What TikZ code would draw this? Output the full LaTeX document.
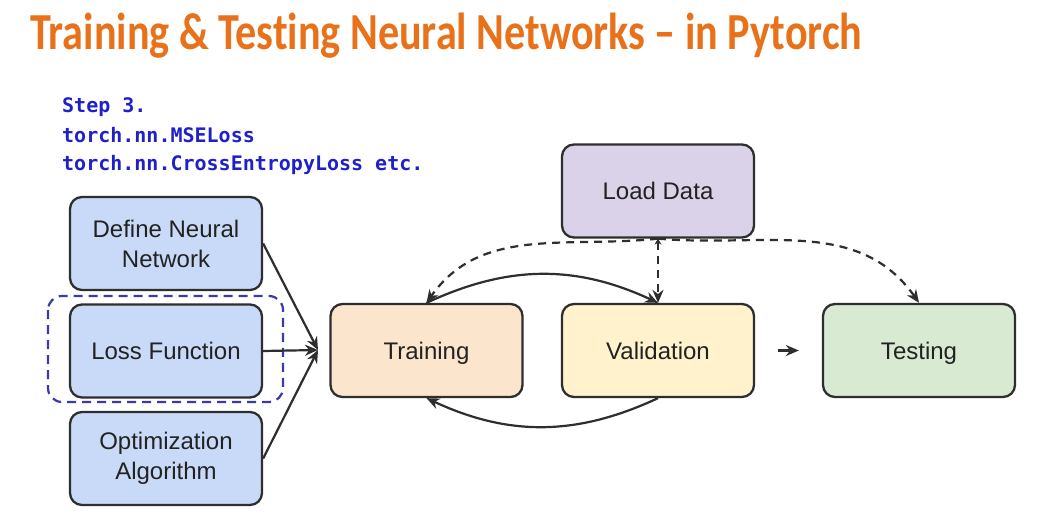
\documentclass[tikz,border=0pt]{standalone}
\usepackage{graphicx}
\usepackage{fontspec}
\setmainfont{Liberation Sans}
\newfontfamily\titlefont[Ligatures=NoCommon]{Carlito}
\newfontfamily\codefont{DejaVu Sans Mono}
\usetikzlibrary{arrows.meta}

\definecolor{titleorange}{HTML}{E8711A}
\definecolor{codeblue}{HTML}{2020C8}
\definecolor{groupblue}{HTML}{3A3AA8}
\definecolor{boxgray}{HTML}{2E2E2E}
\definecolor{textgray}{HTML}{222222}
\definecolor{stepblue}{HTML}{C9DAF8}
\definecolor{trainpeach}{HTML}{FCE5CD}
\definecolor{valyellow}{HTML}{FFF2CC}
\definecolor{testgreen}{HTML}{D9EAD3}
\definecolor{loadlilac}{HTML}{D9D2E9}

\begin{document}
\begin{tikzpicture}[x=1pt, y=1pt,
  box/.style={draw=boxgray, line width=2.3pt, rounded corners=12pt, minimum width=192pt,
    minimum height=93pt, align=center, text=textgray, font=\fontsize{24}{30}\selectfont},
  oneline/.style={text height=17pt, text depth=0pt},
  codeline/.style={anchor=base west, inner sep=0pt, text=codeblue, font=\codefont\bfseries\fontsize{20}{28}\selectfont},
  arr/.style={draw=boxgray, line width=2.2pt, -{Stealth[length=13pt,width=11pt]}},
  dasharr/.style={arr, dashed, dash pattern=on 8pt off 6pt}]

  \useasboundingbox[fill=white] (0,0) rectangle (1048,-524);

  % title
  \node[anchor=base west, inner sep=0pt, text=titleorange] (title) at (30,-50)
    {\resizebox{832pt}{\height}{\titlefont\bfseries\fontsize{52}{60}\selectfont Training \& Testing Neural Networks – in Pytorch}};

  % step 3 note
  \node[codeline] (code1) at (62,-113) {Step 3.};
  \node[codeline] (code2) at (62,-142) {torch.nn.MSELoss};
  \node[codeline] (code3) at (62,-170) {torch.nn.CrossEntropyLoss etc.};

  % inputs
  \node[box, fill=stepblue] (define) at (166,-243.5) {Define Neural\\Network};
  \node[box, oneline, fill=stepblue] (loss) at (166,-351) {Loss Function};
  \node[box, fill=stepblue] (optim) at (166,-458.5) {Optimization\\Algorithm};
  \draw[groupblue, line width=2.2pt, dashed, dash pattern=on 9pt off 6pt, rounded corners=14pt]
    (48,-296) rectangle (283,-402);

  % stages
  \node[box, oneline, fill=trainpeach] (train) at (426.5,-350.5) {Training};
  \node[box, oneline, fill=valyellow] (val) at (658,-350.5) {Validation};
  \node[box, oneline, fill=testgreen] (test) at (919,-350.5) {Testing};
  \node[box, oneline, fill=loadlilac] (load) at (658,-191) {Load Data};

  % inputs meet before training
  \coordinate (merge) at (318,-350);
  \draw[arr] (define.east) -- (merge);
  \draw[arr] (loss.east) -- (merge);
  \draw[arr] (optim.east) -- (merge);

  % training loop
  \draw[arr] (train.north) to[bend left=25] (val.north);
  \draw[arr] (val.south) to[bend left=25] (train.south);
  \draw[arr] ([xshift=23pt]val.east) -- ([xshift=-23pt]test.west);

  % data feeds
  \draw[dasharr] (load.south) to[out=186, in=55] (train.north);
  \draw[dasharr, {Stealth[length=6pt,width=7pt]}-{Stealth[length=13pt,width=11pt]}] (load.south) -- (val.north);
  \draw[dasharr] (load.south) to[out=-5, in=125] (test.north);

\end{tikzpicture}
\end{document}
